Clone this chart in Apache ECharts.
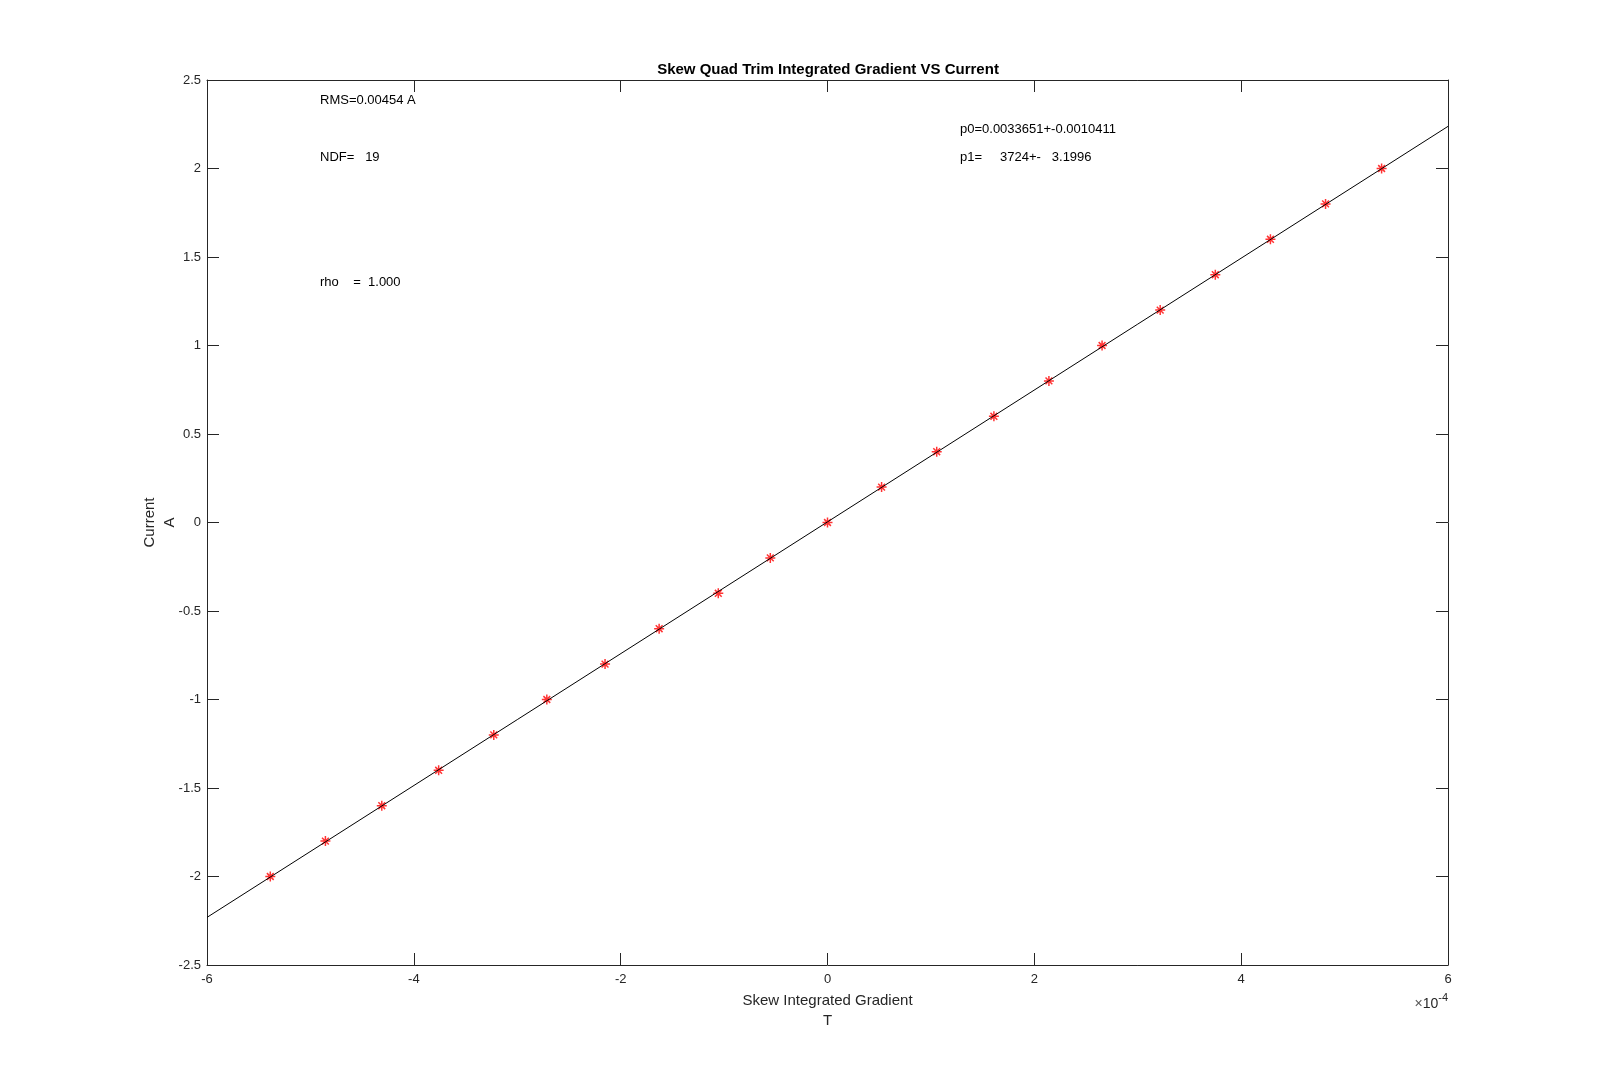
<!DOCTYPE html>
<html>
<head>
<meta charset="utf-8">
<script src="https://cdn.jsdelivr.net/npm/echarts@6/dist/echarts.min.js"></script>
<style>html,body{margin:0;padding:0;background:#fff}#c{width:1600px;height:1084px}</style>
</head>
<body>
<div id="c"></div>
<script>
// Measured data: x in units of 1e-4 T, y in A
const currentA = [-2.0,-1.8,-1.6,-1.4,-1.2,-1.0,-0.8,-0.6,-0.4,-0.2,0.0,0.2,0.4,0.6,0.8,1.0,1.2,1.4,1.6,1.8,2.0];
const gradientE4 = [-5.388,-4.855,-4.31,-3.76,-3.227,-2.714,-2.151,-1.628,-1.056,-0.553,0.0,0.523,1.056,1.609,2.141,2.655,3.217,3.75,4.283,4.816,5.358];
// Fit line endpoints (from the plot)
const fitX = [-6, 6];
const fitY = [-2.231, 2.238];
const xTicks = {min: -6, max: 6, interval: 2};
const yTicks = {min: -2.5, max: 2.5, interval: 0.5};
const titleText = 'Skew Quad Trim Integrated Gradient VS Current';
const annotations = [
  {text: 'RMS=0.00454 A', x: 320, y: 100},
  {text: 'NDF=   19', x: 320, y: 157},
  {text: 'rho    =  1.000', x: 320, y: 282},
  {text: 'p0=0.0033651+-0.0010411', x: 960, y: 129},
  {text: 'p1=     3724+-   3.1996', x: 960, y: 157}
];

const FONT = '"Liberation Sans", Arial, Helvetica, sans-serif';
const AX = '#262626';
const chart = echarts.init(document.getElementById('c'), null, {renderer: 'canvas'});

const scatterData = gradientE4.map((x, i) => [x, currentA[i]]);
const lineData = fitX.map((x, i) => [x, fitY[i]]);

const baseAxisLine = {show: true, onZero: false, lineStyle: {color: AX, width: 1}};
const baseTick = {show: true, inside: true, length: 12, lineStyle: {color: AX, width: 1}};

const star = 'path://M0,5L10,5M5,0L5,10M1.6,1.6L8.4,8.4M8.4,1.6L1.6,8.4';

chart.setOption({
  animation: false,
  backgroundColor: '#fff',
  grid: {left: 207, right: 152, top: 80, bottom: 119, containLabel: false},
  xAxis: [
    {
      type: 'value', position: 'bottom', min: xTicks.min, max: xTicks.max, interval: xTicks.interval,
      axisLine: baseAxisLine, axisTick: baseTick, splitLine: {show: false},
      axisLabel: {color: AX, fontFamily: FONT, fontSize: 13, margin: 8},
      name: 'Skew Integrated Gradient\nT', nameLocation: 'middle', nameGap: 26,
      nameTextStyle: {color: AX, fontFamily: FONT, fontSize: 15, lineHeight: 20, verticalAlign: 'top'}
    },
    {
      type: 'value', position: 'top', min: xTicks.min, max: xTicks.max, interval: xTicks.interval,
      axisLine: baseAxisLine, axisTick: baseTick, splitLine: {show: false}, axisLabel: {show: false}
    }
  ],
  yAxis: [
    {
      type: 'value', position: 'left', min: yTicks.min, max: yTicks.max, interval: yTicks.interval,
      axisLine: baseAxisLine, axisTick: baseTick, splitLine: {show: false},
      axisLabel: {color: AX, fontFamily: FONT, fontSize: 13, margin: 6},
      name: 'Current\nA', nameLocation: 'middle', nameGap: 27, nameRotate: 90, nameMoveOverlap: false,
      nameTextStyle: {color: AX, fontFamily: FONT, fontSize: 15, lineHeight: 20}
    },
    {
      type: 'value', position: 'right', min: yTicks.min, max: yTicks.max, interval: yTicks.interval,
      axisLine: baseAxisLine, axisTick: baseTick, splitLine: {show: false}, axisLabel: {show: false}
    }
  ],
  series: [
    {
      type: 'scatter', xAxisIndex: 0, yAxisIndex: 0, data: scatterData,
      symbol: star, symbolSize: 10,
      itemStyle: {color: 'rgba(0,0,0,0)', borderColor: '#ff0000', borderWidth: 1.5},
      z: 2, silent: true
    },
    {
      type: 'line', xAxisIndex: 0, yAxisIndex: 0, data: lineData,
      showSymbol: false, symbol: 'none', lineStyle: {color: '#000', width: 1}, z: 3, silent: true
    }
  ],
  graphic: [
    {
      type: 'text', x: 828, y: 70,
      style: {text: titleText, fill: '#000', font: 'bold 15px ' + FONT, align: 'center', verticalAlign: 'middle'}
    },
    {
      type: 'text', x: 1448, y: 1004,
      style: {
        text: '{a|×}{b|10}{c|-4}', align: 'right', verticalAlign: 'middle',
        rich: {
          a: {fontFamily: FONT, fontSize: 14, fill: '#555', color: '#555'},
          b: {fontFamily: FONT, fontSize: 14, fill: AX, color: AX},
          c: {fontFamily: FONT, fontSize: 11, fill: AX, color: AX, verticalAlign: 'top', padding: [0, 0, 12, 0]}
        }
      }
    }
  ].concat(annotations.map(a => ({
    type: 'text', x: a.x, y: a.y,
    style: {text: a.text, fill: '#000', font: '13px ' + FONT, align: 'left', verticalAlign: 'middle'}
  })))
});
</script>
</body>
</html>
